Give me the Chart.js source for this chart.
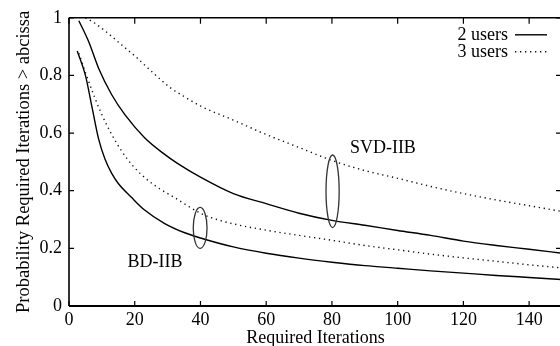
<!DOCTYPE html>
<html><head><meta charset="utf-8">
<script src="https://cdn.jsdelivr.net/npm/chart.js@4/dist/chart.umd.min.js"></script>
<style>
html,body{margin:0;padding:0;background:#fff;overflow:hidden;width:560px;height:346px}
#wrap{width:564px;height:346px;position:relative}
</style></head>
<body><div id="wrap"><canvas id="c" width="564" height="346"></canvas></div>
<script>
// ---- data ----
const xTicks = [0, 20, 40, 60, 80, 100, 120, 140];
const yTicks = [0, 0.2, 0.4, 0.6, 0.8, 1];
const yTickLabels = ['0', '0.2', '0.4', '0.6', '0.8', '1'];
const xTitle = 'Required Iterations';
const yTitle = 'Probability Required Iterations > abcissa';
const legendLabels = ['2 users', '3 users'];

const svd3X = [5, 8, 12, 16, 20, 25, 31, 35, 40, 50, 60, 70, 80, 90, 100, 110, 120, 130, 140, 150];
const svd3Y = [1.0, 0.98, 0.945, 0.906, 0.868, 0.815, 0.756, 0.727, 0.694, 0.645, 0.595, 0.55, 0.505, 0.47, 0.443, 0.415, 0.39, 0.368, 0.348, 0.328];

const svd2X = [3, 6, 9, 13, 17, 23, 29, 33, 40, 50, 60, 70, 80, 90, 100, 110, 120, 130, 140, 150];
const svd2Y = [0.99, 0.917, 0.825, 0.733, 0.664, 0.584, 0.527, 0.495, 0.447, 0.39, 0.355, 0.322, 0.297, 0.28, 0.262, 0.245, 0.225, 0.21, 0.197, 0.183];

const bd3X = [3, 5, 7.5, 10, 13, 16, 19, 23, 27, 32, 40, 45, 50, 60, 70, 80, 90, 100, 110, 120, 130, 140, 150];
const bd3Y = [0.877, 0.81, 0.733, 0.664, 0.595, 0.538, 0.492, 0.446, 0.411, 0.377, 0.322, 0.3, 0.285, 0.263, 0.245, 0.228, 0.21, 0.195, 0.18, 0.167, 0.155, 0.143, 0.132];

const bd2X = [2.5, 5, 7, 9, 11, 13, 15, 19, 23, 29, 35, 40, 50, 60, 70, 80, 90, 100, 110, 120, 130, 140, 150];
const bd2Y = [0.885, 0.80, 0.69, 0.58, 0.508, 0.46, 0.425, 0.377, 0.333, 0.287, 0.255, 0.236, 0.205, 0.183, 0.166, 0.152, 0.14, 0.131, 0.122, 0.114, 0.106, 0.099, 0.092];

// annotations (data units)
const annLabels = [
  {text: 'SVD-IIB', x: 95.5, y: 0.548},
  {text: 'BD-IIB', x: 26.2, y: 0.152}
];
const annEllipses = [
  {cx: 39.9, cy: 0.271, rx: 2.1, ry: 0.071},
  {cx: 80.2, cy: 0.398, rx: 2.0, ry: 0.126}
];

// ---- chart ----
const FONT = 'Liberation Serif, Times New Roman, serif';
const SOLID = {borderColor: '#000', borderWidth: 1.4, borderDash: []};
const DOTTED = {borderColor: '#111', borderWidth: 1.4, borderDash: [1.3, 3.7]};
const pts = (xs, ys) => xs.map((x, i) => ({x: x, y: ys[i]}));
const mk = (label, xs, ys, st) => Object.assign({
  label: label, data: pts(xs, ys), pointRadius: 0, fill: false,
  cubicInterpolationMode: 'monotone', borderCapStyle: 'butt'
}, st);

const overlay = {
  id: 'overlay',
  afterDraw(chart) {
    const ctx = chart.ctx, a = chart.chartArea;
    const xs = chart.scales.x, ys = chart.scales.y;
    ctx.save();
    ctx.strokeStyle = '#000';
    // frame
    ctx.lineWidth = 1.6;
    ctx.beginPath();
    ctx.moveTo(a.left, a.top); ctx.lineTo(a.right, a.top);
    ctx.moveTo(a.left, a.top); ctx.lineTo(a.left, a.bottom);
    ctx.moveTo(a.right, a.top); ctx.lineTo(a.right, a.bottom);
    ctx.stroke();
    ctx.lineWidth = 2;
    ctx.beginPath();
    ctx.moveTo(a.left, a.bottom); ctx.lineTo(a.right, a.bottom);
    ctx.stroke();
    // inward ticks
    ctx.lineWidth = 1.2;
    ctx.beginPath();
    xTicks.forEach(v => {
      const px = xs.getPixelForValue(v);
      ctx.moveTo(px, a.bottom); ctx.lineTo(px, a.bottom - 5);
      ctx.moveTo(px, a.top); ctx.lineTo(px, a.top + 6);
    });
    yTicks.forEach(v => {
      const py = ys.getPixelForValue(v);
      ctx.moveTo(a.left, py); ctx.lineTo(a.left + 5, py);
      ctx.moveTo(a.right, py); ctx.lineTo(a.right - 6, py);
    });
    ctx.stroke();
    // ellipses
    ctx.strokeStyle = '#333';
    ctx.lineWidth = 1.3;
    annEllipses.forEach(e => {
      const cx = xs.getPixelForValue(e.cx), cy = ys.getPixelForValue(e.cy);
      const rx = Math.abs(xs.getPixelForValue(e.cx + e.rx) - cx);
      const ry = Math.abs(ys.getPixelForValue(e.cy + e.ry) - cy);
      ctx.beginPath();
      ctx.ellipse(cx, cy, rx, ry, 0, 0, Math.PI * 2);
      ctx.stroke();
    });
    // labels
    ctx.fillStyle = '#000';
    ctx.font = '18px ' + FONT;
    ctx.textAlign = 'center';
    ctx.textBaseline = 'middle';
    annLabels.forEach(l => {
      ctx.fillText(l.text, xs.getPixelForValue(l.x), ys.getPixelForValue(l.y));
    });
    // legend
    ctx.textAlign = 'right';
    const lx = a.right - 54;
    const styles = [SOLID, DOTTED];
    legendLabels.forEach((t, i) => {
      const ly = a.top + 17 + i * 17;
      ctx.fillStyle = '#000';
      ctx.fillText(t, lx, ly);
      ctx.strokeStyle = styles[i].borderColor;
      ctx.lineWidth = styles[i].borderWidth;
      ctx.setLineDash(styles[i].borderDash);
      ctx.beginPath();
      ctx.moveTo(lx + 7, ly); ctx.lineTo(lx + 39, ly);
      ctx.stroke();
    });
    ctx.restore();
  }
};

new Chart(document.getElementById('c'), {
  type: 'line',
  data: {
    datasets: [
      mk('SVD-IIB 3 users', svd3X, svd3Y, DOTTED),
      mk('SVD-IIB 2 users', svd2X, svd2Y, SOLID),
      mk('BD-IIB 3 users', bd3X, bd3Y, DOTTED),
      mk('BD-IIB 2 users', bd2X, bd2Y, SOLID)
    ]
  },
  options: {
    responsive: false,
    animation: false,
    devicePixelRatio: 1,
    layout: {padding: {top: 16, right: 2, left: 0, bottom: 0}},
    plugins: {legend: {display: false}, tooltip: {enabled: false}},
    scales: {
      x: {
        type: 'linear', min: 0, max: 150,
        grid: {display: false, drawTicks: false},
        border: {display: false},
        afterBuildTicks: s => { s.ticks = xTicks.map(v => ({value: v})); },
        afterFit: s => { s.height = 40; },
        ticks: {color: '#000', font: {family: FONT, size: 18}, padding: 3, maxRotation: 0, autoSkip: false},
        title: {display: true, text: xTitle, color: '#000', font: {family: FONT, size: 18, lineHeight: 0.9}, padding: 0}
      },
      y: {
        type: 'linear', min: 0, max: 1,
        grid: {display: false, drawTicks: false},
        border: {display: false},
        afterBuildTicks: s => { s.ticks = yTicks.map(v => ({value: v})); },
        afterFit: s => { s.width = 69; },
        ticks: {color: '#000', font: {family: FONT, size: 18}, padding: 7,
          callback: v => yTickLabels[yTicks.indexOf(v)]},
        title: {display: true, text: yTitle, color: '#000', font: {family: FONT, size: 18.5}, padding: {top: 12.6, bottom: 0}}
      }
    }
  },
  plugins: [overlay]
});
</script>
</body></html>
